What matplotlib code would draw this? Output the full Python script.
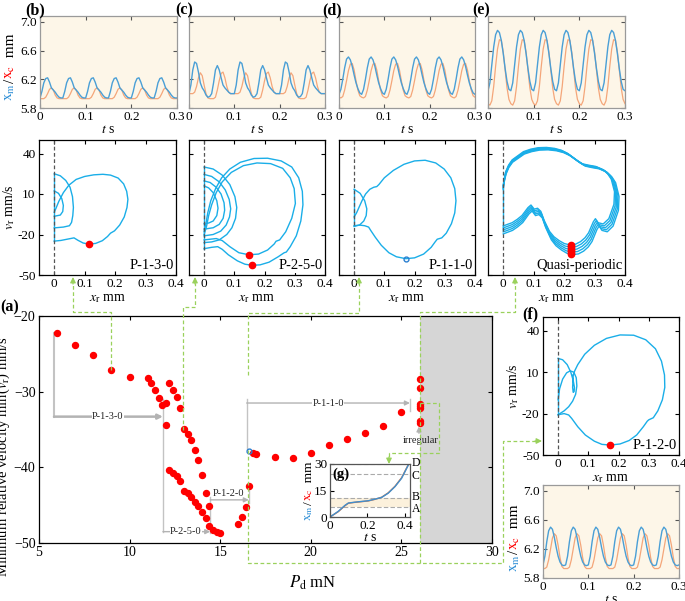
import numpy as np
import matplotlib
matplotlib.use("Agg")
import matplotlib.pyplot as plt
from matplotlib.lines import Line2D
from matplotlib.patches import FancyArrowPatch

# ---------------- data ----------------
# time-series: one cycle (12 samples over 0.05 s)
t_cycle = 0.05
b_xm = [5.94, 6.03, 6.15, 6.21, 6.22, 6.16, 6.08, 6.05, 6.02, 5.98, 5.95, 5.94]
b_xc = [5.93, 5.93, 5.93, 5.95, 6.00, 6.06, 6.08, 6.05, 5.98, 5.94, 5.93, 5.93]
c_xm = [6.00, 6.12, 6.33, 6.44, 6.42, 6.30, 6.15, 6.08, 6.04, 5.98, 5.95, 5.96,
        6.00, 6.15, 6.33, 6.39, 6.33, 6.22, 6.12, 6.08, 6.05, 6.02, 6.00, 6.00]
c_xc = [6.00, 6.00, 6.00, 6.02, 6.10, 6.22, 6.29, 6.25, 6.12, 6.00, 5.94, 5.93,
        5.93, 5.93, 5.95, 6.05, 6.18, 6.28, 6.30, 6.22, 6.10, 6.02, 6.00, 6.00]
d_xm = [5.99, 6.06, 6.20, 6.36, 6.48, 6.51, 6.47, 6.38, 6.26, 6.15, 6.07, 6.01]
d_xc = [5.95, 5.94, 5.96, 6.05, 6.18, 6.32, 6.41, 6.42, 6.33, 6.18, 6.05, 5.97]
e_xm = [6.04, 6.15, 6.40, 6.65, 6.82, 6.88, 6.85, 6.74, 6.56, 6.35, 6.17, 6.06]
e_xc = [5.86, 5.84, 5.90, 6.10, 6.38, 6.62, 6.75, 6.74, 6.58, 6.33, 6.08, 5.92]
f_xm = [5.98, 6.10, 6.30, 6.45, 6.50, 6.47, 6.36, 6.22, 6.10, 6.02, 5.98, 5.97]
f_xc = [5.93, 5.93, 5.95, 6.05, 6.20, 6.35, 6.41, 6.38, 6.25, 6.08, 5.96, 5.93]

# phase portraits (x_r mm, v_r mm/s)
b_loop_x = [0.000, 0.022, 0.049, 0.065, 0.078, 0.095, 0.114, 0.136, 0.158, 0.175, 0.185, 0.198, 0.215,
            0.230, 0.239, 0.242, 0.238, 0.228, 0.210, 0.185, 0.160, 0.130, 0.100, 0.072, 0.048, 0.030,
            0.015, 0.005, 0.000]
b_loop_v = [-24.9, -24.4, -23.2, -22.5, -24.3, -26.3, -27.1, -26.6, -24.6, -21.5, -19.0, -17.3, -13.0,
            -7.0, 0.0, 6.0, 12.0, 17.5, 21.8, 24.0, 24.6, 24.2, 23.0, 20.8, 16.5, 11.0, 4.5, -1.0, -3.5]
b_arc1_x = [0.000, 0.020, 0.038, 0.052, 0.060, 0.063, 0.061, 0.057, 0.050, 0.030, 0.000]
b_arc1_v = [25.0, 23.5, 20.0, 15.0, 8.0, 0.0, -6.0, -11.0, -13.5, -14.5, -15.1]
b_arc2_x = [0.000, 0.014, 0.025, 0.030, 0.028, 0.020, 0.000]
b_arc2_v = [12.3, 10.5, 6.5, 1.5, -3.0, -5.6, -6.5]
b_wall_v = [-24.9, 25.0]
b_min = ([0.114], [-27.1])

c_loop1_x = [0.000, 0.025, 0.045, 0.060, 0.080, 0.110, 0.135, 0.158, 0.185, 0.215, 0.245, 0.265, 0.272,
             0.285, 0.305, 0.320, 0.327, 0.325, 0.313, 0.290, 0.255, 0.210, 0.165, 0.120, 0.085, 0.058,
             0.038, 0.022, 0.012, 0.006, 0.000]
c_loop1_v = [-30.5, -29.5, -29.0, -31.0, -35.0, -39.5, -42.0, -42.8, -42.5, -40.5, -36.5, -33.5, -33.0,
             -29.0, -21.0, -10.0, 2.0, 12.0, 22.0, 30.0, 34.5, 36.5, 36.3, 33.5, 28.5, 22.0, 14.0,
             5.0, -4.0, -12.0, -18.0]
c_loop2_x = [0.000, 0.020, 0.040, 0.060, 0.085, 0.115, 0.148, 0.180, 0.210, 0.232, 0.238, 0.250, 0.270,
             0.290, 0.302, 0.298, 0.285, 0.260, 0.220, 0.175, 0.130, 0.090, 0.060, 0.040, 0.025, 0.015,
             0.008, 0.000]
c_loop2_v = [-24.0, -23.5, -23.0, -24.5, -29.0, -33.5, -35.0, -34.5, -31.5, -27.0, -25.0, -24.0, -18.0,
             -8.0, 3.0, 14.0, 22.0, 29.0, 32.5, 33.0, 31.0, 26.0, 19.0, 11.0, 2.0, -6.0, -14.0, -20.0]
c_arcA_x = [0.000, 0.030, 0.060, 0.085, 0.102, 0.108, 0.104, 0.092, 0.075, 0.050, 0.025, 0.000]
c_arcA_v = [30.0, 28.5, 24.0, 17.0, 8.0, 0.0, -8.0, -15.0, -20.0, -24.0, -25.5, -26.0]
c_arcB_x = [0.000, 0.025, 0.050, 0.070, 0.083, 0.088, 0.084, 0.073, 0.055, 0.030, 0.000]
c_arcB_v = [24.5, 23.0, 19.0, 13.0, 6.0, -1.0, -7.0, -13.0, -17.5, -20.0, -21.0]
c_arcC_x = [0.000, 0.020, 0.040, 0.056, 0.066, 0.068, 0.063, 0.050, 0.030, 0.000]
c_arcC_v = [19.7, 18.5, 15.0, 10.0, 3.5, -2.0, -8.0, -12.5, -15.0, -16.0]
c_arcD_x = [0.000, 0.015, 0.030, 0.042, 0.046, 0.042, 0.030, 0.015, 0.000]
c_arcD_v = [16.0, 14.5, 11.0, 5.0, -0.5, -6.0, -10.0, -11.5, -12.0]
c_wall_v = [-30.5, 30.0]
c_min = ([0.158, 0.148], [-42.8, -35.0])

d_loop_x = [0.000, 0.018, 0.035, 0.048, 0.055, 0.070, 0.090, 0.115, 0.140, 0.171, 0.200, 0.230, 0.255,
            0.268, 0.275, 0.290, 0.305, 0.322, 0.333, 0.337, 0.333, 0.320, 0.298, 0.270, 0.235, 0.200,
            0.165, 0.130, 0.100, 0.082, 0.075, 0.065, 0.052, 0.038, 0.026, 0.016, 0.008, 0.000]
d_loop_v = [-13.5, -13.0, -13.5, -14.5, -17.0, -22.0, -28.0, -33.5, -36.5, -37.9, -37.3, -34.5, -29.5,
            -25.5, -23.5, -22.5, -19.0, -12.0, -4.0, 5.0, 14.0, 22.0, 28.5, 33.0, 35.0, 34.5, 32.0,
            27.5, 22.0, 17.0, 15.5, 15.0, 13.5, 10.0, 5.0, 0.0, -4.0, -7.0]
d_arc_x = [0.000, 0.020, 0.035, 0.042, 0.040, 0.032, 0.018, 0.000]
d_arc_v = [13.5, 10.5, 5.0, -1.0, -6.0, -10.0, -13.0, -14.0]
d_wall_v = [-14.0, 13.5]
d_min = ([0.171], [-37.9])

e_x = [0.000, 0.030, 0.047, 0.063, 0.083, 0.093, 0.104, 0.115, 0.126, 0.137, 0.155, 0.170, 0.188, 0.205,
       0.224, 0.242, 0.259, 0.274, 0.286, 0.302, 0.309, 0.318, 0.335, 0.354, 0.371, 0.373, 0.362, 0.350,
       0.335, 0.310, 0.285, 0.265, 0.248, 0.215, 0.195, 0.172, 0.145, 0.117, 0.092, 0.068, 0.030, 0.018,
       0.009, 0.003, 0.000]
e_v = [-16.6, -14.1, -11.5, -8.5, -2.4, -0.4, -3.6, -2.9, -5.3, -12.2, -20.8, -25.0, -28.1, -30.3,
       -31.3, -30.8, -28.8, -25.8, -22.0, -13.4, -11.0, -14.1, -15.1, -11.0, 0.1, 9.9, 19.7, 23.8,
       27.0, 29.5, 30.5, 31.5, 33.9, 39.3, 41.5, 42.9, 43.6, 43.4, 42.3, 40.5, 34.4, 30.5, 25.8, 20.0,
       14.8]
e_copy_dv = [3.6, 1.8, 0.0, -1.8, -3.6]
e_copy_sx = [-0.02, -0.01, 0.0, 0.01, 0.02]
e_wall_v = [-17.0, 14.8]
e_min_v = [-27.6, -28.8, -30.0, -31.3, -32.5, -33.7, -34.8]
e_min_x = 0.224

f_loop_x = [0.000, 0.020, 0.035, 0.045, 0.065, 0.090, 0.120, 0.145, 0.173, 0.205, 0.235, 0.260, 0.282,
            0.295, 0.300, 0.315, 0.330, 0.345, 0.353, 0.352, 0.342, 0.322, 0.290, 0.250, 0.205, 0.160,
            0.120, 0.088, 0.065, 0.055, 0.050]
f_loop_v = [-20.8, -20.0, -21.0, -23.5, -29.5, -35.5, -40.0, -42.3, -42.8, -42.0, -39.5, -35.5, -29.5,
            -25.5, -24.5, -23.0, -18.0, -10.0, -1.0, 8.0, 18.0, 27.0, 33.5, 36.8, 37.0, 34.5, 29.5, 23.0,
            15.5, 11.0, 8.0]
f_arc1_x = [0.000, 0.015, 0.030, 0.042, 0.050, 0.054, 0.053, 0.050, 0.048, 0.050]
f_arc1_v = [20.0, 19.0, 15.5, 10.0, 4.0, -1.0, -4.0, -4.6, -1.0, 8.0]
f_arc2_x = [0.000, 0.005, 0.015, 0.028, 0.040, 0.052, 0.060, 0.062, 0.058, 0.048, 0.035, 0.020, 0.000]
f_arc2_v = [-10.0, -2.0, 5.0, 9.5, 11.0, 10.0, 6.0, 0.0, -6.0, -11.0, -15.0, -18.0, -20.8]
f_wall_v = [-20.8, 20.0]
f_min = ([0.173], [-42.8])

# bifurcation diagram (a)
pd_vals = [6, 7, 8, 9, 10, 11, 11.2, 11.4, 11.6, 11.8, 12.0, 12.0, 12.2, 12.4, 12.6, 12.8,
           12.2, 12.4, 12.6, 12.8, 13.0, 13.0, 13.2, 13.2, 13.4, 13.4, 13.6, 13.6, 13.8, 13.8,
           14.0, 14.0, 14.2, 14.2, 14.4, 14.4, 14.6, 14.8, 15.0, 16.0, 16.2, 16.4, 16.6, 16.8,
           17.0, 18, 19, 20, 21, 22, 23, 24, 25, 26, 26, 26, 26, 26, 26, 26]
vmin_vals = [-22.2, -23.8, -25.2, -27.1, -28.1, -28.2, -28.8, -29.8, -30.9, -31.7, -31.5, -34.4,
             -28.8, -29.8, -30.7, -32.2, -40.4, -40.8, -41.2, -41.8, -35.0, -43.1, -35.6, -43.4,
             -36.4, -43.9, -37.7, -44.6, -39.0, -45.1, -41.0, -45.9, -43.4, -46.7, -45.1, -47.7,
             -48.3, -48.6, -48.7, -47.5, -46.6, -45.3, -42.5, -38.1, -38.2, -38.6, -38.8, -38.1,
             -37.1, -36.3, -35.5, -34.5, -32.7, -28.3, -29.5, -31.6, -31.9, -32.2, -33.9, -34.2]
pd_p110 = [16.6]
vmin_p110 = [-37.8]

# inset (g)
g_t = [0.0, 0.044, 0.080, 0.098, 0.133, 0.169, 0.204, 0.240, 0.276, 0.311, 0.347, 0.382, 0.418]
g_xm = [0.0, 3.2, 6.6, 7.9, 8.4, 8.8, 9.2, 10.1, 11.1, 13.5, 17.2, 21.9, 29.4]
g_xc = [0.0, 3.0, 6.4, 7.8, 8.3, 8.7, 9.1, 10.0, 11.2, 13.7, 17.4, 22.2, 29.6]
g_levels = [5.4, 10.7, 24.4, 30.0]
g_level_names = ["A", "B", "C", "D"]

# ---------------- style ----------------
plt.rcParams.update({
    "font.family": ["Liberation Serif", "DejaVu Serif"],
    "mathtext.fontset": "stix",
    "font.size": 9.5,
    "xtick.direction": "in", "ytick.direction": "in",
    "xtick.top": True, "ytick.right": True,
    "xtick.major.size": 3, "ytick.major.size": 3,
    "xtick.major.pad": 2.5, "ytick.major.pad": 2.5,
    "axes.linewidth": 0.9,
})
BLUE_TS = "#4a9fd6"
ORANGE_TS = "#f4a67a"
PH = "#1aaee8"
GREEN = "#9ad15c"
GRAY = "#c3c3c3"
BEIGE = "#fdf6e8"
TICKFS = 9.5

W, H = 685, 601
fig = plt.figure(figsize=(W / 100, H / 100), dpi=100)


def ax_px(l, t, r, b):
    return fig.add_axes([l / W, 1 - b / H, (r - l) / W, (b - t) / H])


def F(x, y):
    return (x / W, 1 - y / H)


def vlabel(x_px, y_px, parts, size):
    fig.canvas.draw()
    r = fig.canvas.get_renderer()
    x, y = F(x_px, y_px)
    for s, c in parts:
        t = fig.text(x, y, s, rotation=90, color=c, ha="center", va="bottom", fontsize=size)
        bb = t.get_window_extent(r)
        y += bb.height / fig.bbox.height


def ts_panel(box, xm, xc, ylab):
    ax = ax_px(*box)
    n = len(xm)
    reps = int(round(0.3 / (t_cycle * n / 12)))
    ym = np.append(np.tile(xm, reps), xm[0])
    yc = np.append(np.tile(xc, reps), xc[0])
    tt = np.linspace(0, 0.3, len(ym))
    ax.set_facecolor(BEIGE)
    ax.plot(tt, yc, color=ORANGE_TS, lw=0.9)
    ax.plot(tt, ym, color=BLUE_TS, lw=1.0)
    ax.set_xlim(0, 0.3)
    ax.set_ylim(5.8, 7.08)
    ax.set_xticks([0, 0.1, 0.2, 0.3])
    ax.set_xticklabels(["0", "0.1", "0.2", "0.3"], fontsize=TICKFS)
    ax.set_yticks([5.8, 6.2, 6.6, 7.0])
    if ylab:
        ax.set_yticklabels(["5.8", "6.2", "6.6", "7.0"], fontsize=TICKFS)
    else:
        ax.set_yticklabels([])
    for s in ax.spines.values():
        s.set_color("#9a9a9a")
    ax.tick_params(colors="#555555", labelcolor="black")
    ax.set_xlabel("$t$ s", fontsize=10, labelpad=0)
    return ax


def ph_panel(box, curves, wall, mins, label, ylab, hollow=False):
    ax = ax_px(*box)
    ax.plot([0, 0], wall, color=PH, lw=1.0)
    for cx, cv in curves:
        ax.plot(cx, cv, color=PH, lw=1.0)
    ax.axvline(0, color="#555555", ls=(0, (3, 2)), lw=0.9)
    if hollow:
        ax.plot(mins[0], mins[1], "o", mfc="none", mec="#2a7fd0", ms=3.5, mew=1)
    else:
        ax.plot(mins[0], mins[1], "o", color="red", ms=4.5)
    ax.set_xlim(-0.05, 0.4)
    ax.set_ylim(-50, 50)
    ax.set_xticks([0, 0.1, 0.2, 0.3, 0.4])
    ax.set_xticklabels(["0", "0.1", "0.2", "0.3", "0.4"], fontsize=TICKFS)
    ax.set_yticks([-50, -20, 10, 40])
    if ylab:
        ax.set_yticklabels(["-50", "-20", "10", "40"], fontsize=TICKFS)
        ax.set_ylabel("$v_\\mathrm{r}$ mm/s", fontsize=10, labelpad=1)
    else:
        ax.set_yticklabels([])
    ax.set_xlabel("$x_\\mathrm{r}$ mm", fontsize=10, labelpad=1)
    ax.text(0.985, 0.02, label, transform=ax.transAxes, ha="right", va="bottom", fontsize=10.5,
            bbox=dict(fc="white", ec="none", pad=0.5))
    return ax


# ---------------- top row ----------------
ts_panel((40, 16, 177, 108), b_xm, b_xc, True)
ts_panel((189, 16, 325, 108), c_xm, c_xc, False)
ts_panel((339, 16, 475, 108), d_xm, d_xc, False)
ts_panel((488, 16, 625, 108), e_xm, e_xc, False)
ts_panel((543, 485, 679, 578), f_xm, f_xc, True)

ph_panel((39, 140, 176, 275), [(b_loop_x, b_loop_v), (b_arc1_x, b_arc1_v), (b_arc2_x, b_arc2_v)],
         b_wall_v, b_min, "P-1-3-0", True)
ph_panel((189, 140, 325, 275), [(c_loop1_x, c_loop1_v), (c_loop2_x, c_loop2_v), (c_arcA_x, c_arcA_v),
                                (c_arcB_x, c_arcB_v), (c_arcC_x, c_arcC_v), (c_arcD_x, c_arcD_v)],
         c_wall_v, c_min, "P-2-5-0", False)
ph_panel((339, 140, 475, 275), [(d_loop_x, d_loop_v), (d_arc_x, d_arc_v)],
         d_wall_v, d_min, "P-1-1-0", False, hollow=True)
e_x_arr = np.array(e_x)
e_v_arr = np.array(e_v)
e_w = 0.25 + 0.75 * np.clip((30 - e_v_arr) / 61, 0, 1)
e_curves = [(e_x_arr * (1 + sx), e_v_arr + dv * e_w) for sx, dv in zip(e_copy_sx, e_copy_dv)]
ph_panel((488, 140, 625, 275), e_curves, e_wall_v, ([e_min_x] * len(e_min_v), e_min_v),
         "Quasi-periodic", False)
ph_panel((543, 317, 679, 455), [(f_loop_x, f_loop_v), (f_arc1_x, f_arc1_v), (f_arc2_x, f_arc2_v)],
         f_wall_v, f_min, "P-1-2-0", True)

# ---------------- main panel (a) ----------------
ax = ax_px(39, 316, 492, 543)
ax.axvspan(26, 30, color="#d6d6d6", lw=0)
ax.plot(pd_vals, vmin_vals, "o", color="red", ms=4.3, ls="none", zorder=4)
ax.plot(pd_p110, vmin_p110, "o", mfc="none", mec="#2a7fd0", ms=3.5, mew=1, zorder=4)
ax.set_xlim(5, 30)
ax.set_ylim(-50, -20)
ax.set_xticks([5, 10, 15, 20, 25, 30])
ax.set_yticks([-50, -40, -30, -20])
ax.tick_params(labelsize=10)
ax.set_ylabel("Minimum relative velocity min($v_\\mathrm{r}$) mm/s", fontsize=10.5)
ax.yaxis.set_label_coords(-27 / 453, 0.383)


def gline(xs, ys, lw=1.0):
    ax.plot(xs, ys, color=GRAY, lw=lw, zorder=2)


def garrow(x0, y0, x1, y1, lw=1.0):
    ax.annotate("", xy=(x1, y1), xytext=(x0, y0), zorder=2,
                arrowprops=dict(arrowstyle="-|>", color="#b3b3b3", lw=lw, mutation_scale=7,
                                shrinkA=0, shrinkB=0))


def glabel(x, y, s, va="center"):
    ax.text(x, y, s, fontsize=7.5, ha="center", va=va, zorder=3, color="#222222",
            bbox=dict(fc="white", ec="none", pad=0.3) if va == "center" else None)


gline([5.83, 5.83], [-22.2, -33.3], lw=1.5)
garrow(5.83, -33.3, 11.84, -33.3, lw=1.8)
glabel(8.8, -33.3, "P-1-3-0")
gline([11.84, 11.84], [-31.0, -48.5])
garrow(11.84, -48.5, 14.45, -48.5)
glabel(13.1, -48.5, "P-2-5-0")
gline([14.45, 14.45], [-43.9, -48.7])
garrow(14.45, -44.3, 16.58, -44.3)
gline([16.58, 16.58], [-42.6, -44.7])
glabel(15.45, -44.1, "P-1-2-0", va="bottom")
gline([16.46, 16.46], [-31.0, -37.6])
garrow(16.46, -31.5, 25.47, -31.5)
gline([25.47, 25.47], [-31.0, -32.6])
glabel(20.95, -31.5, "P-1-1-0")
garrow(25.97, -35.5, 25.97, -34.6)
ax.text(26.05, -36.4, "irregular", fontsize=7.5, ha="center", va="center", color="#222222")

fig.text(*F(313, 583), "$P_\\mathrm{d}$ mN", fontsize=12, ha="center", va="center")

# ---------------- inset (g) ----------------
axg = ax_px(330, 464, 410, 517)
axg.axhspan(g_levels[0], g_levels[1], color="#fcf1dc", lw=0)
label_shift = [-1.0, 0.9, -1.0, 0.6]
for lv, nm, sh in zip(g_levels, g_level_names, label_shift):
    axg.axhline(lv, color="#aaaaaa", ls=(0, (4, 2)), lw=0.8)
    axg.text(1.02, lv + sh, nm, transform=axg.get_yaxis_transform(), fontsize=8.5, va="center",
             ha="left")
axg.plot(g_t, g_xc, color="#d9733a", lw=1.0)
axg.plot(g_t, g_xm, color="#3f8fd0", lw=1.0)
axg.set_xlim(0, 0.427)
axg.set_ylim(0, 30)
axg.set_xticks([0, 0.2, 0.4])
axg.set_xticklabels(["0", "0.2", "0.4"], fontsize=9.5)
axg.set_yticks([0, 15, 30])
axg.set_yticklabels(["0", "15", "30"], fontsize=9.5)
axg.tick_params(right=False, top=False)
axg.tick_params(axis="x", pad=2.5)
axg.tick_params(axis="y", pad=2)
axg.set_xlabel("$t$ s", fontsize=10, labelpad=-1)
axg.text(0.03, 0.93, "(g)", transform=axg.transAxes, fontweight="bold", fontsize=10.5, va="top")
for s in axg.spines.values():
    s.set_color("#555555")

# ---------------- green connectors ----------------
def gpath(pts):
    xs = [F(*p)[0] for p in pts]
    ys = [F(*p)[1] for p in pts]
    fig.add_artist(Line2D(xs, ys, transform=fig.transFigure, color=GREEN, lw=0.9,
                          ls=(0, (3, 2)), zorder=5))


def ghead(p0, p1):
    fig.add_artist(FancyArrowPatch(F(*p0), F(*p1), transform=fig.transFigure, arrowstyle="-|>",
                                   mutation_scale=8, color=GREEN, lw=0.9, zorder=5,
                                   shrinkA=0, shrinkB=0))


gpath([(111, 370), (111, 312), (73, 312), (73, 283)])
ghead((73, 284), (73, 277))
gpath([(183, 430), (183, 307), (195, 307), (195, 283)])
ghead((195, 284), (195, 277))
gpath([(248, 375), (248, 313), (359, 313), (359, 283)])
ghead((359, 284), (359, 277))
gpath([(248, 450), (248, 563), (503, 563), (503, 441), (536, 441)])
ghead((535, 441), (542, 441))
gpath([(420, 563), (420, 312), (515, 312), (515, 283)])
ghead((515, 284), (515, 277))
gpath([(420, 403), (439, 403), (439, 453), (389, 453), (389, 458)])
ghead((389, 457), (389, 464))

# ---------------- panel letters and coloured labels ----------------
for s, x, y in [("(b)", 25, 10), ("(c)", 175, 10), ("(d)", 322, 10), ("(e)", 472, 10),
                ("(a)", 0, 307), ("(f)", 522, 314)]:
    fig.text(*F(x, y), s, fontweight="bold", fontsize=11.5, ha="left", va="center")

ts_parts = [("$\\mathrm{x_m}$", "#2f8fd6"), ("/", "black"), ("$\\mathrm{x_c}$", "red"), ("  mm", "black")]
vlabel(10, 101, ts_parts, 11)
vlabel(515, 572, ts_parts, 11)
vlabel(309, 521, ts_parts, 9.5)

fig.savefig("out.png", dpi=100)
